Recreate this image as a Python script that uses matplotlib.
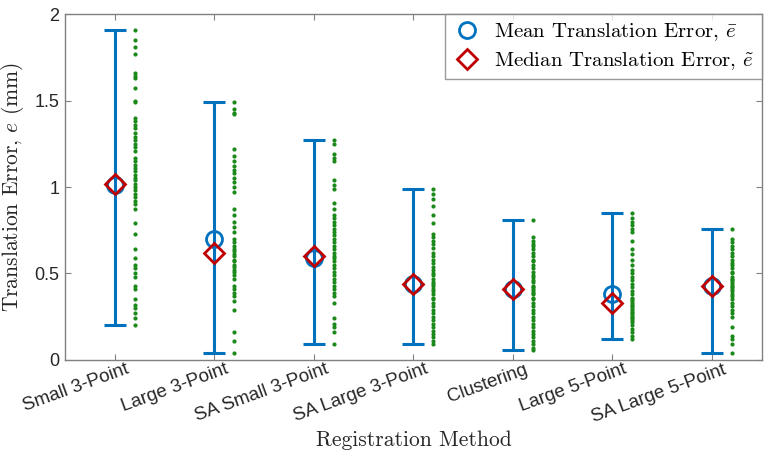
import matplotlib
matplotlib.use("Agg")
import matplotlib.pyplot as plt
import matplotlib.transforms as mtransforms
import numpy as np

BLUE = "#0072BD"
RED = "#C00000"
GREEN = "#1B8A1B"
AX_GRAY = "#808080"
TXT = "#262626"

methods = ["Small 3-Point", "Large 3-Point", "SA Small 3-Point", "SA Large 3-Point",
           "Clustering", "Large 5-Point", "SA Large 5-Point"]

# individual trial errors (mm)
small3 = [1.91, 1.85, 1.81, 1.77, 1.66, 1.64, 1.63, 1.57, 1.50, 1.49, 1.40, 1.38, 1.36,
          1.34, 1.31, 1.29, 1.27, 1.25, 1.23, 1.21, 1.17, 1.15, 1.13, 1.11, 1.09, 1.07,
          1.05, 1.04, 1.02, 1.00, 0.98, 0.96, 0.94, 0.92, 0.90, 0.87, 0.79, 0.73, 0.64,
          0.59, 0.55, 0.53, 0.50, 0.48, 0.43, 0.41, 0.35, 0.32, 0.30, 0.27, 0.24, 0.20]
large3 = [1.49, 1.45, 1.43, 1.42, 1.22, 1.18, 1.15, 1.12, 1.10, 1.08, 1.05, 1.03, 1.00,
          0.97, 0.87, 0.84, 0.80, 0.77, 0.74, 0.70, 0.68, 0.66, 0.64, 0.63, 0.61, 0.60,
          0.58, 0.57, 0.55, 0.54, 0.52, 0.51, 0.49, 0.47, 0.43, 0.41, 0.39, 0.37, 0.34,
          0.29, 0.16, 0.11, 0.04]
sa_small3 = [1.27, 1.25, 1.19, 1.17, 1.15, 1.04, 1.01, 0.99, 0.91, 0.87, 0.84, 0.82, 0.80,
             0.78, 0.76, 0.74, 0.72, 0.70, 0.68, 0.66, 0.64, 0.62, 0.60, 0.59, 0.57, 0.55,
             0.53, 0.51, 0.49, 0.47, 0.45, 0.43, 0.41, 0.39, 0.37, 0.33, 0.24, 0.21, 0.19,
             0.16, 0.09]
sa_large3 = [0.99, 0.96, 0.93, 0.89, 0.84, 0.79, 0.73, 0.71, 0.69, 0.67, 0.65, 0.62, 0.60,
             0.58, 0.56, 0.54, 0.52, 0.50, 0.49, 0.47, 0.45, 0.44, 0.43, 0.41, 0.40, 0.38,
             0.36, 0.35, 0.33, 0.31, 0.29, 0.27, 0.25, 0.23, 0.21, 0.19, 0.17, 0.15, 0.13,
             0.11, 0.09]
clustering = [0.81, 0.71, 0.69, 0.67, 0.66, 0.64, 0.62, 0.60, 0.58, 0.57, 0.55, 0.53, 0.51,
              0.49, 0.48, 0.46, 0.45, 0.43, 0.42, 0.41, 0.40, 0.39, 0.38, 0.36, 0.35, 0.33,
              0.31, 0.29, 0.27, 0.25, 0.23, 0.21, 0.19, 0.17, 0.15, 0.13, 0.11, 0.09, 0.07,
              0.06]
large5 = [0.85, 0.82, 0.80, 0.78, 0.76, 0.74, 0.69, 0.64, 0.61, 0.58, 0.55, 0.52, 0.50,
          0.48, 0.46, 0.44, 0.42, 0.40, 0.38, 0.36, 0.35, 0.34, 0.33, 0.32, 0.31, 0.30,
          0.29, 0.28, 0.27, 0.26, 0.25, 0.24, 0.23, 0.22, 0.20, 0.18, 0.16, 0.14, 0.12]
sa_large5 = [0.76, 0.70, 0.68, 0.66, 0.64, 0.62, 0.60, 0.58, 0.56, 0.55, 0.53, 0.51, 0.50,
             0.48, 0.47, 0.46, 0.45, 0.44, 0.43, 0.42, 0.41, 0.40, 0.38, 0.37, 0.35, 0.33,
             0.31, 0.29, 0.27, 0.25, 0.19, 0.14, 0.12, 0.09, 0.04]

trials = [small3, large3, sa_small3, sa_large3, clustering, large5, sa_large5]

mean_err = [1.01, 0.70, 0.59, 0.44, 0.41, 0.38, 0.43]
median_err = [1.02, 0.62, 0.60, 0.44, 0.41, 0.33, 0.43]

plt.rcParams["mathtext.fontset"] = "cm"
plt.rcParams["font.family"] = ["Liberation Sans", "DejaVu Sans"]
SERIF = "cmr10"

fig = plt.figure(figsize=(7.71, 4.68), dpi=100)
ax = fig.add_axes([0.0843, 0.2308, 0.9037, 0.7392])

x = np.arange(1, len(methods) + 1)
lo = np.array([min(t) for t in trials])
hi = np.array([max(t) for t in trials])
mid = (lo + hi) / 2

ax.errorbar(x, mid, yerr=[mid - lo, hi - mid], fmt="none", ecolor=BLUE,
            elinewidth=2.2, capsize=8, capthick=2.2, zorder=2)

for xi, t in zip(x, trials):
    ax.plot(np.full(len(t), xi + 0.2), t, "o", color=GREEN, markersize=3,
            markeredgewidth=0, zorder=2)

ax.plot(x, mean_err, "o", markersize=11.5, markerfacecolor="none",
        markeredgecolor=BLUE, markeredgewidth=2, linestyle="none", zorder=3,
        label=r"Mean Translation Error, $\bar{e}$")
ax.plot(x, median_err, "D", markersize=10, markerfacecolor="none",
        markeredgecolor=RED, markeredgewidth=2, linestyle="none", zorder=4,
        label=r"Median Translation Error, $\tilde{e}$")

ax.set_xlim(0.5, 7.5)
ax.set_ylim(0, 2)
ax.set_xticks(x)
ax.set_xticklabels([])
# rotated category labels, MATLAB-style placement (a bit right of the tick)
lab_tr = ax.get_xaxis_transform() + mtransforms.ScaledTranslation(0.11, -0.01,
                                                                  fig.dpi_scale_trans)
for xi, name in zip(x, methods):
    ax.text(xi, 0, name, transform=lab_tr, rotation=20, rotation_mode="anchor",
            ha="right", va="top", fontsize=13.5, color=TXT)

ax.set_yticks([0, 0.5, 1, 1.5, 2])
ax.set_yticklabels(["0", "0.5", "1", "1.5", "2"], fontsize=13)
ax.tick_params(direction="in", top=True, right=True, length=4, color=AX_GRAY,
               labelcolor=TXT, pad=4)
for s in ax.spines.values():
    s.set_color(AX_GRAY)
    s.set_linewidth(1.0)

ax.set_ylabel(r"Translation Error, $e$ (mm)", fontsize=15.5, family=SERIF, color=TXT,
              labelpad=6)
fig.text((65 + 762) / 2 / 771, 1 - 440 / 468, "Registration Method", fontsize=15.5,
         family=SERIF, color=TXT, ha="center", va="center")

leg = ax.legend(loc="upper right", frameon=True, fancybox=False,
                borderaxespad=0, handletextpad=0.6, handlelength=1.4, labelspacing=0.35,
                borderpad=0.35, prop={"family": SERIF, "size": 15})
leg.get_frame().set_edgecolor(AX_GRAY)
leg.get_frame().set_linewidth(1.0)

fig.savefig("out.png", dpi=100, facecolor="white")
